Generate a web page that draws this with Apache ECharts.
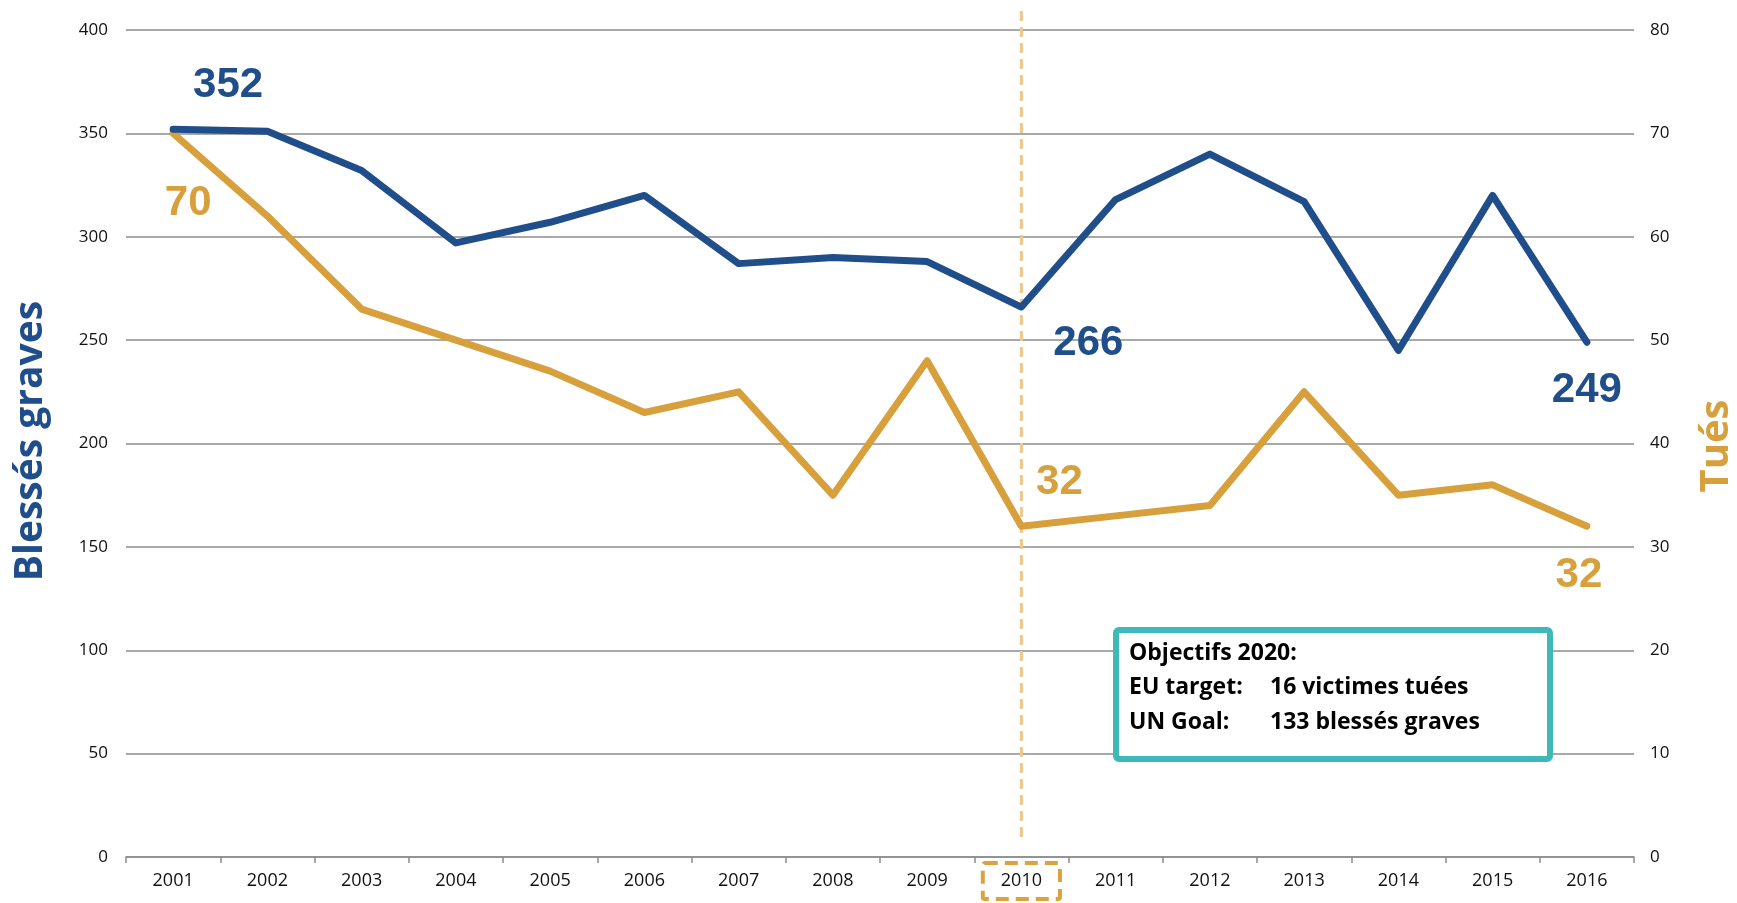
<!DOCTYPE html>
<html><head><meta charset="utf-8">
<script src="https://cdn.jsdelivr.net/npm/echarts@6/dist/echarts.min.js"></script>
<style>html,body{margin:0;padding:0;background:#fff}#c{width:1737px;height:903px}</style>
</head><body><div id="c"></div>
<script>
const years = ['2001','2002','2003','2004','2005','2006','2007','2008','2009','2010','2011','2012','2013','2014','2015','2016'];
const blesses = [352,351,332,297,307,320,287,290,288,266,318,340,317,245,320,249];
const tues = [70,62,53,50,47,43,45,35,48,32,33,34,45,35,36,32];
const leftTicks = [0,50,100,150,200,250,300,350,400];
const rightTicks = [0,10,20,30,40,50,60,70,80];
const boxLines = ['Objectifs 2020:', 'EU target:', 'UN Goal:'];
const boxValues = ['', '16 victimes tuées', '133 blessés graves'];

const BLUE = '#1f4e8a', ORANGE = '#d7a03c', GRID = '#8c8c8c';
const FONT = '"Open Sans", sans-serif';

const blueLabels = {0:[55,-44], 9:[67,36], 15:[0,48]};
const orangeLabels = {0:[15,70], 9:[38,-44], 15:[-8,49]};
function mk(vals, labels, color){
  return vals.map((v,i)=> labels[i] ? {value:v, label:{show:true, position:'inside', offset:labels[i],
    formatter:String(v), color:color, fontFamily:'"Liberation Sans", Arial, sans-serif', fontWeight:'bold', fontSize:42}} : v);
}

const chart = echarts.init(document.getElementById('c'));
chart.setOption({
  animation:false,
  grid:{left:126, right:103, top:30, bottom:46},
  xAxis:{type:'category', data:years, boundaryGap:true,
    axisLine:{lineStyle:{color:GRID, width:1.5}},
    axisTick:{show:true, length:6, lineStyle:{color:GRID, width:1.5}},
    axisLabel:{margin:6, interval:0,
      formatter:v => v==='2010' ? '{hl|'+v+'}' : '{n|'+v+'}',
      rich:{
        n:{fontFamily:FONT, fontSize:18, color:'#111', padding:[9,18,9,18], borderWidth:4, borderColor:'transparent'},
        hl:{fontFamily:FONT, fontSize:18, color:'#111', padding:[9,18,9,18], borderWidth:4, borderColor:'#daa340', borderType:[13,7], borderRadius:2}
      }}},
  yAxis:[
    {type:'value', min:0, max:400, interval:50, position:'left',
     axisLine:{show:false}, axisTick:{show:false},
     axisLabel:{fontFamily:FONT, fontSize:17, color:'#111', margin:18, formatter:v=>leftTicks.includes(v)?String(v):''},
     splitLine:{lineStyle:{color:GRID, width:1.5}}},
    {type:'value', min:0, max:80, interval:10, position:'right',
     axisLine:{show:false}, axisTick:{show:false},
     axisLabel:{fontFamily:FONT, fontSize:17, color:'#111', margin:16, formatter:v=>rightTicks.includes(v)?String(v):''},
     splitLine:{show:false}}
  ],
  series:[
    {name:'Blessés graves', type:'line', yAxisIndex:0, data:mk(blesses, blueLabels, BLUE),
     symbol:'circle', symbolSize:2, showSymbol:true, itemStyle:{color:BLUE},
     lineStyle:{color:BLUE, width:7, cap:'round', join:'round'}, z:3},
    {name:'Tués', type:'line', yAxisIndex:1, data:mk(tues, orangeLabels, ORANGE),
     symbol:'circle', symbolSize:2, showSymbol:true, itemStyle:{color:ORANGE},
     lineStyle:{color:ORANGE, width:7, cap:'round', join:'round'}, z:2}
  ]
});

const x2010 = chart.convertToPixel({xAxisIndex:0}, '2010');
const F = 'bold 23px '+FONT;
chart.setOption({graphic:[
  {type:'line', shape:{x1:x2010, y1:11, x2:x2010, y2:842}, style:{stroke:'#eec88a', lineWidth:3, lineDash:[10,6]}, z:1},
  {type:'text', x:31, y:441, rotation:Math.PI/2, style:{text:'Blessés graves', fill:BLUE, font:'bold 39px '+FONT, align:'center', verticalAlign:'middle'}},
  {type:'rect', shape:{x:1116, y:630, width:434, height:129, r:3}, style:{fill:'#fff', stroke:'#3fb8b8', lineWidth:6}, z:10},
  {type:'text', x:1129, y:653, style:{text:boxLines[0], font:F, fill:'#000', verticalAlign:'middle'}, z:11},
  {type:'text', x:1129, y:687, style:{text:boxLines[1], font:F, fill:'#000', verticalAlign:'middle'}, z:11},
  {type:'text', x:1129, y:722, style:{text:boxLines[2], font:F, fill:'#000', verticalAlign:'middle'}, z:11},
  {type:'text', x:1270, y:687, style:{text:boxValues[1], font:F, fill:'#000', verticalAlign:'middle'}, z:11},
  {type:'text', x:1270, y:722, style:{text:boxValues[2], font:F, fill:'#000', verticalAlign:'middle'}, z:11},
  {type:'text', x:1717, y:446, rotation:Math.PI/2, style:{text:'Tués', fill:ORANGE, font:'bold 40px '+FONT, align:'center', verticalAlign:'middle'}}
]});
</script></body></html>
